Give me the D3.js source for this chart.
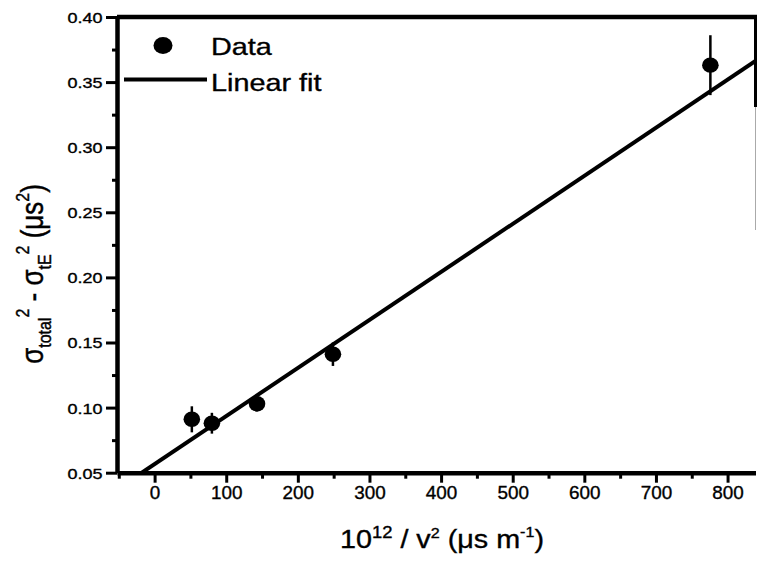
<!DOCTYPE html>
<html>
<head>
<meta charset="utf-8">
<script src="https://cdn.jsdelivr.net/npm/d3@7"></script>
<style>
  body { margin: 0; background: #fff; }
  text { font-family: "Liberation Sans", Arial, sans-serif; fill: #000; stroke: #000; stroke-width: 0.35px; }
</style>
</head>
<body>
<script>
// values
var xVals = [52, 80, 143, 249, 776];
var yVals = [0.091, 0.088, 0.103, 0.141, 0.363];
var yErr = [0.010, 0.008, 0.006, 0.009, 0.023];

var fitSlope = 0.000369;
var fitIntercept = 0.0566;

var xTicks = [0, 100, 200, 300, 400, 500, 600, 700, 800];
var xMinor = [-50, 50, 150, 250, 350, 450, 550, 650, 750];
var yTicks = [0.05, 0.10, 0.15, 0.20, 0.25, 0.30, 0.35, 0.40];
var yMinor = [0.075, 0.125, 0.175, 0.225, 0.275, 0.325, 0.375];

var svgWidth = 757;
var svgHeight = 563;

var plotLeft = 117, plotRight = 755.5, plotTop = 17, plotBottom = 472.7;

var svg = d3.select("body")
    .append("svg")
    .attr("width", svgWidth)
    .attr("height", svgHeight);

var xScale = d3.scaleLinear()
    .domain([-52.5, 839])
    .range([plotLeft, plotRight]);
var yScale = d3.scaleLinear()
    .domain([0.05, 0.40])
    .range([plotBottom, plotTop]);

// minor ticks first, then major axes on top
svg.append("g")
    .attr("transform", `translate(0, ${plotBottom})`)
    .call(d3.axisBottom(xScale).tickValues(xMinor).tickSize(6).tickSizeOuter(0).tickFormat(""))
    .call(g => g.select(".domain").remove())
    .selectAll("line").attr("stroke-width", 3);

svg.append("g")
    .attr("transform", `translate(${plotLeft}, 0)`)
    .call(d3.axisLeft(yScale).tickValues(yMinor).tickSize(5).tickSizeOuter(0).tickFormat(""))
    .call(g => g.select(".domain").remove())
    .selectAll("line").attr("stroke-width", 3);

var xAxis = svg.append("g")
    .attr("transform", `translate(0, ${plotBottom})`)
    .call(d3.axisBottom(xScale).tickValues(xTicks).tickSize(10).tickSizeOuter(0).tickPadding(4));
xAxis.select(".domain").attr("stroke-width", 4.5);
xAxis.selectAll("line").attr("stroke-width", 3);
xAxis.selectAll("text")
    .attr("font-size", "18px")
    .attr("transform", "scale(1.05,1)");

var yAxis = svg.append("g")
    .attr("transform", `translate(${plotLeft}, 0)`)
    .call(d3.axisLeft(yScale).tickValues(yTicks).tickSize(11).tickSizeOuter(0).tickPadding(2)
        .tickFormat(d3.format(".2f")));
yAxis.select(".domain").attr("stroke-width", 4.5);
yAxis.selectAll("line").attr("stroke-width", 3);
yAxis.selectAll("text")
    .attr("font-size", "15px")
    .attr("dy", "0.36em")
    .attr("x", -12)
    .attr("transform", "scale(1.2,1)");

// top and right frame
svg.append("line")
    .attr("x1", plotLeft).attr("x2", svgWidth)
    .attr("y1", plotTop).attr("y2", plotTop)
    .attr("stroke", "black").attr("stroke-width", 4.5);
svg.append("line")
    .attr("x1", plotRight).attr("x2", plotRight)
    .attr("y1", plotTop).attr("y2", 107)
    .attr("stroke", "black").attr("stroke-width", 3);
svg.append("line")
    .attr("x1", plotRight).attr("x2", plotRight)
    .attr("y1", 107).attr("y2", 230)
    .attr("stroke", "#aaa").attr("stroke-width", 1);

// linear fit
svg.append("defs").append("clipPath").attr("id", "plot")
    .append("rect")
    .attr("x", plotLeft).attr("y", plotTop)
    .attr("width", plotRight - plotLeft).attr("height", plotBottom - plotTop);

var fitX = [(0.05 - fitIntercept) / fitSlope, 839];
svg.append("path")
    .datum(fitX)
    .attr("clip-path", "url(#plot)")
    .attr("fill", "none")
    .attr("stroke", "black")
    .attr("stroke-width", 4)
    .attr("d", d3.line()
        .x(d => xScale(d))
        .y(d => yScale(fitIntercept + fitSlope * d)));

// error bars and points
var points = xVals.map((x, i) => ({x: x, y: yVals[i], e: yErr[i]}));

svg.selectAll(".err")
    .data(points)
    .enter()
    .append("line")
    .attr("x1", d => xScale(d.x)).attr("x2", d => xScale(d.x))
    .attr("y1", d => yScale(d.y - d.e)).attr("y2", d => yScale(d.y + d.e))
    .attr("stroke", "black")
    .attr("stroke-width", 2.5);

svg.selectAll(".dot")
    .data(points)
    .enter()
    .append("ellipse")
    .attr("cx", d => xScale(d.x))
    .attr("cy", d => yScale(d.y))
    .attr("rx", 8.3)
    .attr("ry", 7.7)
    .attr("fill", "black");

// legend
svg.append("ellipse")
    .attr("cx", 163).attr("cy", 45.5)
    .attr("rx", 9.5).attr("ry", 8.5)
    .attr("fill", "black");
svg.append("text")
    .attr("transform", "translate(211, 55) scale(1.2,1)")
    .attr("font-size", "24px")
    .text("Data");
svg.append("line")
    .attr("x1", 124).attr("x2", 207)
    .attr("y1", 79.5).attr("y2", 79.5)
    .attr("stroke", "black").attr("stroke-width", 4);
svg.append("text")
    .attr("transform", "translate(211, 91) scale(1.2,1)")
    .attr("font-size", "24px")
    .text("Linear fit");

// x axis label
var xl = svg.append("text")
    .attr("transform", "translate(442, 548) scale(1.15,1)")
    .attr("text-anchor", "middle")
    .attr("font-size", "25px");
xl.append("tspan").text("10");
xl.append("tspan").attr("font-size", "16px").attr("dy", -10).text("12");
xl.append("tspan").attr("dy", 10).text(" / v");
xl.append("tspan").attr("font-size", "14px").attr("dy", -10).text("2");
xl.append("tspan").attr("dy", 10).text(" (\u03bcs m");
xl.append("tspan").attr("font-size", "14px").attr("dy", -11).text("-1");
xl.append("tspan").attr("dy", 11).text(")");

// y axis label
var yl = svg.append("text")
    .attr("transform", "translate(43, 274) rotate(-90) scale(1,1.2)")
    .attr("text-anchor", "middle")
    .attr("font-size", "26px");
yl.append("tspan").text("\u03c3");
yl.append("tspan").attr("font-size", "16px").attr("dy", 7).text("total");
yl.append("tspan").attr("font-size", "16px").attr("dy", -19).text("2");
yl.append("tspan").attr("dy", 12).text(" - \u03c3");
yl.append("tspan").attr("font-size", "16px").attr("dy", 7).text("tE");
yl.append("tspan").attr("font-size", "16px").attr("dy", -19).text("2");
yl.append("tspan").attr("dy", 12).text(" (\u03bcs");
yl.append("tspan").attr("font-size", "16px").attr("dy", -12).text("2");
yl.append("tspan").attr("dy", 12).text(")");
</script>
</body>
</html>
